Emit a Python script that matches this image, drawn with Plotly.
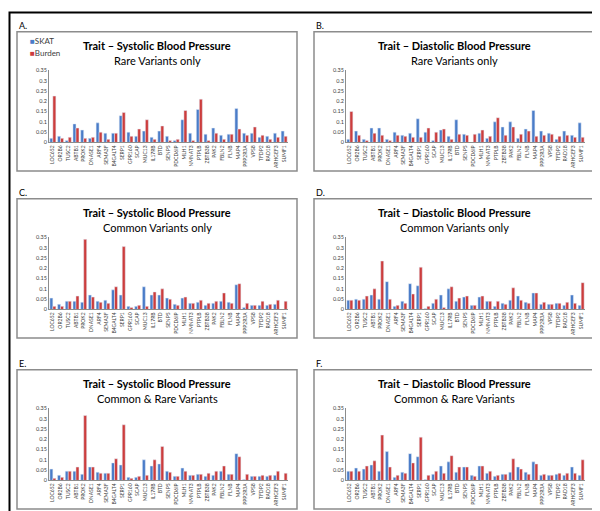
import plotly.graph_objects as go

genes = ["LOC652", "OR2B6", "TUSC2", "ABTB1", "PROK2", "DNASE1", "ARF4", "SEMA3F",
         "B4GALT4", "SERP1", "GPR160", "SCAP", "MUC13", "IL17RB", "BTD", "SENP5",
         "PDCD6IP", "MLH1", "NMNAT3", "PTPLB", "ZBTB38", "PAK2", "FBLN2", "FLNB",
         "MAP4", "PPP2R3A", "VPS8", "TFDP2", "RAD18", "ARHGEF3", "SUMF1"]

# A - systolic, rare variants only
skat_sbp_rare = [0.02, 0.03, 0.01, 0.09, 0.06, 0.02, 0.095, 0.045, 0.045, 0.13, 0.05,
                 0.03, 0.055, 0.025, 0.055, 0.03, 0.01, 0.11, 0.045, 0.16, 0.04, 0.07,
                 0.035, 0.04, 0.165, 0.045, 0.045, 0.025, 0.03, 0.045, 0.055]
burden_sbp_rare = [0.225, 0.02, 0.025, 0.07, 0.02, 0.025, 0.05, 0.015, 0.045, 0.145, 0.03,
                   0.065, 0.11, 0.015, 0.08, 0.01, 0.015, 0.155, 0.01, 0.21, 0.01, 0.045,
                   0.015, 0.04, 0.065, 0.035, 0.075, 0.035, 0.015, 0.025, 0.03]
# B - diastolic, rare variants only
skat_dbp_rare = [0.015, 0.055, 0.015, 0.07, 0.07, 0.015, 0.05, 0.035, 0.045, 0.115, 0.05,
                 0.01, 0.06, 0.03, 0.11, 0.04, 0.0, 0.045, 0.02, 0.1, 0.075, 0.1,
                 0.02, 0.065, 0.155, 0.055, 0.045, 0.015, 0.055, 0.035, 0.095]
burden_dbp_rare = [0.15, 0.035, 0.01, 0.045, 0.035, 0.01, 0.035, 0.03, 0.025, 0.025, 0.07,
                   0.05, 0.065, 0.015, 0.04, 0.035, 0.04, 0.06, 0.03, 0.12, 0.035, 0.075,
                   0.04, 0.055, 0.03, 0.035, 0.04, 0.03, 0.035, 0.025, 0.025]
# C - systolic, common variants only
skat_sbp_common = [0.055, 0.025, 0.04, 0.04, 0.035, 0.07, 0.04, 0.045, 0.095, 0.07, 0.015,
                   0.015, 0.11, 0.07, 0.07, 0.055, 0.025, 0.055, 0.03, 0.035, 0.02, 0.03,
                   0.04, 0.035, 0.12, 0.01, 0.02, 0.02, 0.02, 0.025, 0.0]
burden_sbp_common = [0.015, 0.015, 0.04, 0.065, 0.34, 0.06, 0.035, 0.03, 0.11, 0.305, 0.01,
                     0.02, 0.015, 0.085, 0.1, 0.05, 0.02, 0.06, 0.03, 0.045, 0.03, 0.04,
                     0.08, 0.03, 0.125, 0.03, 0.02, 0.04, 0.025, 0.045, 0.04]
# D - diastolic, common variants only
skat_dbp_common = [0.045, 0.05, 0.05, 0.07, 0.05, 0.135, 0.015, 0.04, 0.125, 0.115, 0.005,
                   0.03, 0.07, 0.1, 0.04, 0.06, 0.02, 0.06, 0.04, 0.015, 0.03, 0.045,
                   0.065, 0.035, 0.08, 0.025, 0.025, 0.03, 0.02, 0.07, 0.02]
burden_dbp_common = [0.045, 0.045, 0.065, 0.1, 0.235, 0.05, 0.02, 0.03, 0.075, 0.205, 0.015,
                     0.05, 0.01, 0.11, 0.055, 0.065, 0.02, 0.065, 0.04, 0.04, 0.025, 0.105,
                     0.045, 0.03, 0.08, 0.035, 0.025, 0.03, 0.035, 0.03, 0.13]
# E - systolic, common & rare
skat_sbp_all = [0.055, 0.025, 0.045, 0.045, 0.03, 0.065, 0.04, 0.035, 0.085, 0.075, 0.015,
                0.015, 0.1, 0.07, 0.08, 0.045, 0.02, 0.06, 0.025, 0.03, 0.02, 0.025,
                0.045, 0.03, 0.13, 0.005, 0.02, 0.02, 0.02, 0.025, 0.0]
burden_sbp_all = [0.01, 0.015, 0.045, 0.065, 0.315, 0.065, 0.035, 0.035, 0.105, 0.27, 0.01,
                  0.02, 0.025, 0.1, 0.165, 0.04, 0.02, 0.045, 0.025, 0.03, 0.035, 0.045,
                  0.07, 0.03, 0.115, 0.03, 0.02, 0.025, 0.025, 0.045, 0.035]
# F - diastolic, common & rare
skat_dbp_all = [0.045, 0.06, 0.055, 0.075, 0.045, 0.14, 0.015, 0.04, 0.13, 0.115, 0.005,
                0.03, 0.07, 0.09, 0.04, 0.065, 0.025, 0.07, 0.035, 0.02, 0.03, 0.04,
                0.065, 0.04, 0.09, 0.025, 0.025, 0.03, 0.025, 0.065, 0.025]
burden_dbp_all = [0.045, 0.045, 0.07, 0.095, 0.22, 0.065, 0.025, 0.035, 0.085, 0.21, 0.025,
                  0.045, 0.035, 0.12, 0.065, 0.065, 0.02, 0.07, 0.045, 0.025, 0.03, 0.105,
                  0.055, 0.03, 0.08, 0.03, 0.025, 0.035, 0.035, 0.035, 0.1]

panels = [
    ("A.", "Trait – Systolic Blood Pressure", "Rare Variants only", skat_sbp_rare, burden_sbp_rare),
    ("B.", "Trait – Diastolic Blood Pressure", "Rare Variants only", skat_dbp_rare, burden_dbp_rare),
    ("C.", "Trait – Systolic Blood Pressure", "Common Variants only", skat_sbp_common, burden_sbp_common),
    ("D.", "Trait – Diastolic Blood Pressure", "Common Variants only", skat_dbp_common, burden_dbp_common),
    ("E.", "Trait – Systolic Blood Pressure", "Common & Rare Variants", skat_sbp_all, burden_sbp_all),
    ("F.", "Trait – Diastolic Blood Pressure", "Common & Rare Variants", skat_dbp_all, burden_dbp_all),
]

W, H = 600, 511
BLUE = "#4a7cc8"
RED = "#cc3d3d"
FONT = "Lato"
# top-left corner of each panel box (px)
corners = [(9, 21), (306, 21), (9, 190), (306, 190), (9, 363), (306, 363)]
BOX_W, BOX_H = 280, 141


def fx(p):
    return p / W


def fy(p):
    return 1 - p / H


fig = go.Figure()
shapes = []
annotations = []
layout_axes = {}

for i, ((label, title, sub, skat, burden), (bx, by)) in enumerate(zip(panels, corners), start=1):
    xa = "x" if i == 1 else f"x{i}"
    ya = "y" if i == 1 else f"y{i}"
    fig.add_trace(go.Bar(x=genes, y=skat, name="SKAT", marker_color=BLUE,
                         xaxis=xa, yaxis=ya, showlegend=False))
    fig.add_trace(go.Bar(x=genes, y=burden, name="Burden", marker_color=RED,
                         xaxis=xa, yaxis=ya, showlegend=False))

    layout_axes["xaxis" if i == 1 else f"xaxis{i}"] = dict(
        domain=[fx(bx + 32), fx(bx + 271)], anchor=ya,
        showline=True, linecolor="#8c8c8c", linewidth=1, showgrid=False,
        ticks="", tickangle=-90, tickfont=dict(size=5, color="#404040", family=FONT),
        fixedrange=True)
    layout_axes["yaxis" if i == 1 else f"yaxis{i}"] = dict(
        domain=[fy(by + 112), fy(by + 39)], anchor=xa, range=[0, 0.35], dtick=0.05,
        showline=True, linecolor="#8c8c8c", linewidth=1, showgrid=False, zeroline=False,
        ticks="", tickfont=dict(size=5.5, color="#404040", family=FONT),
        fixedrange=True)

    shapes.append(dict(type="rect", xref="paper", yref="paper",
                       x0=fx(bx), x1=fx(bx + BOX_W), y0=fy(by + BOX_H), y1=fy(by),
                       line=dict(color="#8c8c8c", width=1.5), layer="below"))
    annotations.append(dict(text=label, x=fx(bx), y=fy(by - 6), xref="paper", yref="paper",
                            xanchor="left", yanchor="middle", showarrow=False,
                            font=dict(size=9, color="black", family=FONT)))
    annotations.append(dict(text=f"<b>{title}</b>", x=fx(bx + BOX_W / 2), y=fy(by + 14),
                            xref="paper", yref="paper", xanchor="center", yanchor="middle",
                            showarrow=False, font=dict(size=11, color="black", family=FONT)))
    annotations.append(dict(text=sub, x=fx(bx + BOX_W / 2), y=fy(by + 29),
                            xref="paper", yref="paper", xanchor="center", yanchor="middle",
                            showarrow=False, font=dict(size=11, color="black", family=FONT)))

# legend, panel A only
for name, col, yy in [("SKAT", BLUE, 30), ("Burden", RED, 43)]:
    annotations.append(dict(text=f'<span style="color:{col}">■</span>{name}',
                            x=fx(20), y=fy(yy), xref="paper", yref="paper",
                            xanchor="left", yanchor="middle", showarrow=False,
                            font=dict(size=8, color="#404040", family=FONT)))

# outer frame
shapes.append(dict(type="rect", xref="paper", yref="paper",
                   x0=fx(1.5), x1=fx(596.5), y0=fy(508.5), y1=fy(1.5),
                   line=dict(color="black", width=2)))

fig.update_layout(
    width=W, height=H, margin=dict(l=0, r=0, t=0, b=0),
    paper_bgcolor="white", plot_bgcolor="white",
    barmode="group", bargap=0.22, bargroupgap=0,
    shapes=shapes, annotations=annotations, showlegend=False,
    font=dict(family=FONT),
    **layout_axes,
)

fig.write_html("out.html")
